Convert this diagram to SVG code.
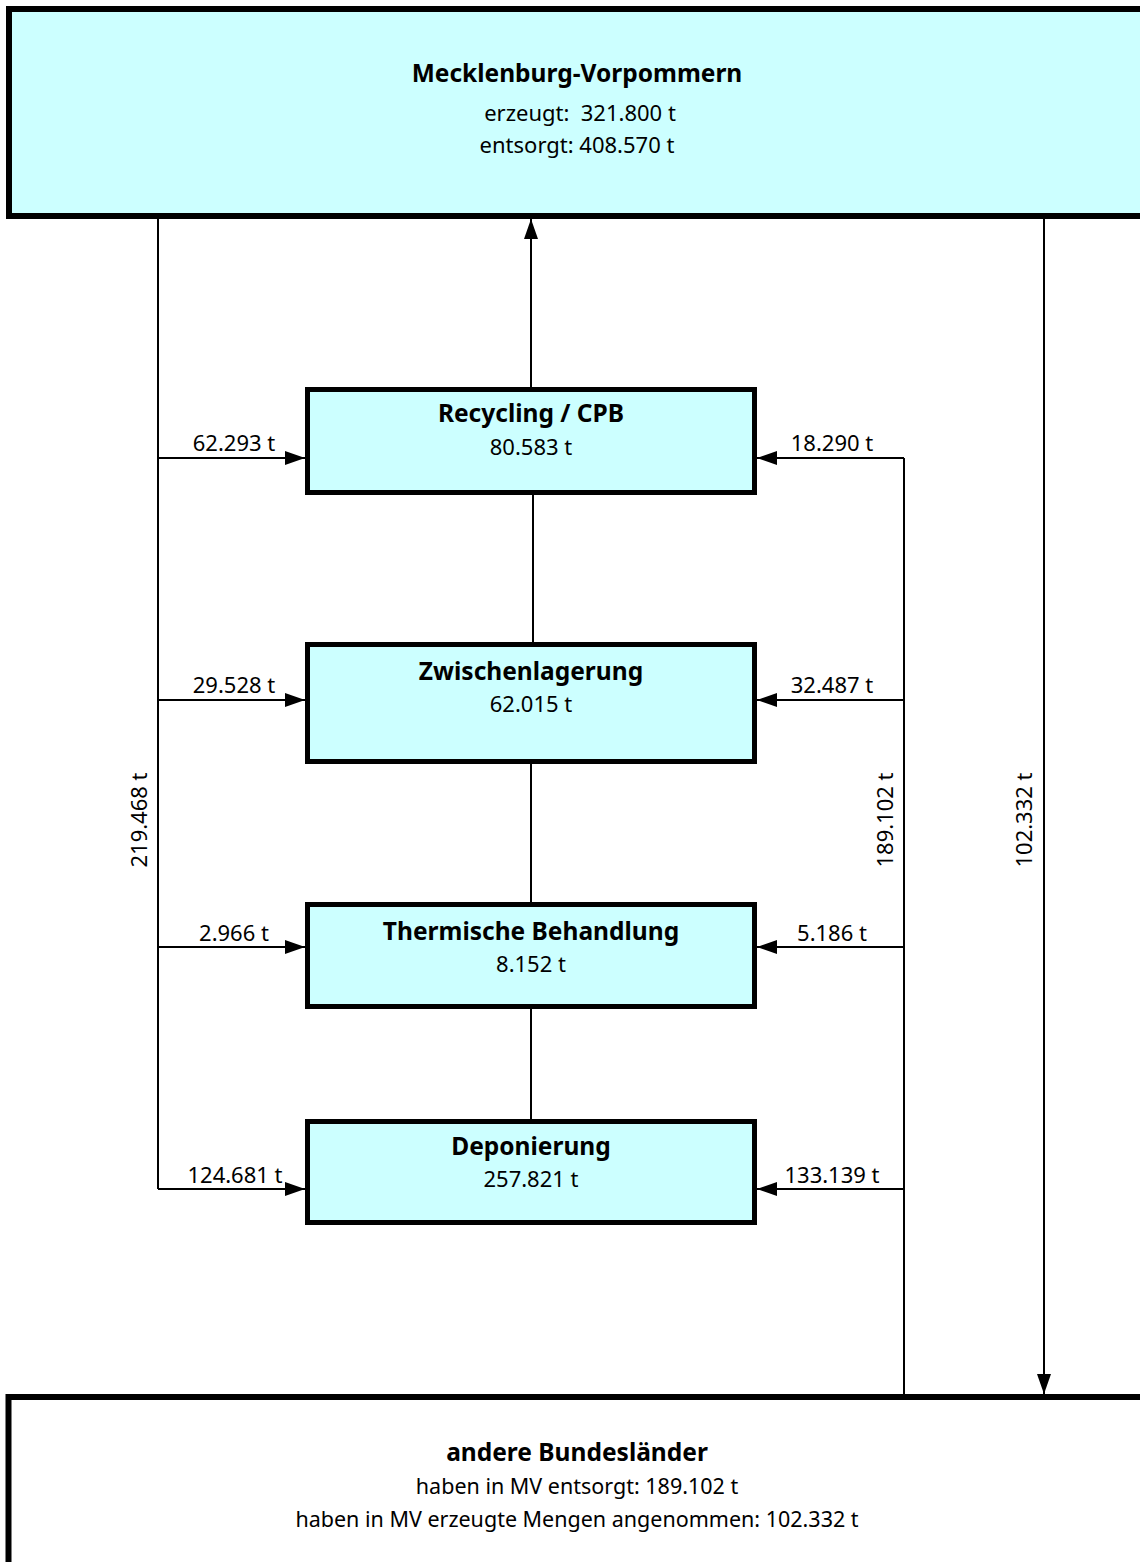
<svg xmlns="http://www.w3.org/2000/svg" width="1140" height="1562" viewBox="0 0 1140 1562">
<style>
text{font-family:"Noto Sans","Open Sans","DejaVu Sans",sans-serif;fill:#000}
.t{font-size:22px;text-anchor:middle}
.s{font-size:21.5px;text-anchor:middle}
.b{font-size:24.5px;font-weight:bold;text-anchor:middle}
.big{fill:#ccffff;stroke:#000;stroke-width:6}
.box{fill:#ccffff;stroke:#000;stroke-width:5}
.ln{stroke:#000;stroke-width:2;fill:none}
</style>
<defs>
<marker id="ah" markerUnits="userSpaceOnUse" markerWidth="22" markerHeight="14" refX="20" refY="7" orient="auto">
<path d="M0,0 L20,7 L0,14 Z" fill="#000"/>
</marker>
</defs>
<g id="connectors">
<line class="ln" x1="158" y1="219" x2="158" y2="1189"/>
<line class="ln" x1="158" y1="458" x2="305" y2="458" marker-end="url(#ah)"/>
<line class="ln" x1="158" y1="700" x2="305" y2="700" marker-end="url(#ah)"/>
<line class="ln" x1="158" y1="947" x2="305" y2="947" marker-end="url(#ah)"/>
<line class="ln" x1="158" y1="1189" x2="305" y2="1189" marker-end="url(#ah)"/>
<line class="ln" x1="904" y1="458" x2="904" y2="1395"/>
<line class="ln" x1="904" y1="458" x2="757" y2="458" marker-end="url(#ah)"/>
<line class="ln" x1="904" y1="700" x2="757" y2="700" marker-end="url(#ah)"/>
<line class="ln" x1="904" y1="947" x2="757" y2="947" marker-end="url(#ah)"/>
<line class="ln" x1="904" y1="1189" x2="757" y2="1189" marker-end="url(#ah)"/>
<line class="ln" x1="1044" y1="219" x2="1044" y2="1394" marker-end="url(#ah)"/>
<line class="ln" x1="531" y1="387" x2="531" y2="219" marker-end="url(#ah)"/>
<line class="ln" x1="533" y1="495" x2="533" y2="642"/>
<line class="ln" x1="531" y1="763" x2="531" y2="902"/>
<line class="ln" x1="531" y1="1008" x2="531" y2="1119"/>
<text class="t" x="234" y="451">62.293 t</text>
<text class="t" x="234" y="693">29.528 t</text>
<text class="t" x="234" y="941">2.966 t</text>
<text class="t" x="235" y="1183">124.681 t</text>
<text class="t" x="832" y="451">18.290 t</text>
<text class="t" x="832" y="693">32.487 t</text>
<text class="t" x="832" y="941">5.186 t</text>
<text class="t" x="832" y="1183">133.139 t</text>
<text class="t" transform="translate(147,820) rotate(-90)">219.468 t</text>
<text class="t" transform="translate(893,820) rotate(-90)">189.102 t</text>
<text class="t" transform="translate(1032,820) rotate(-90)">102.332 t</text>
</g>
<g id="mv">
<rect class="big" x="9" y="9" width="1140" height="207"/>
<text class="b" x="577" y="82">Mecklenburg-Vorpommern</text>
<text class="t" x="580" y="121" xml:space="preserve">erzeugt:  321.800 t</text>
<text class="t" x="577" y="153">entsorgt: 408.570 t</text>
</g>
<g id="recycling">
<rect class="box" x="307.5" y="389.5" width="447" height="103"/>
<text class="b" x="531" y="422">Recycling / CPB</text>
<text class="t" x="531" y="455">80.583 t</text>
</g>
<g id="zwischen">
<rect class="box" x="307.5" y="644.5" width="447" height="117"/>
<text class="b" x="531" y="680">Zwischenlagerung</text>
<text class="t" x="531" y="712">62.015 t</text>
</g>
<g id="thermisch">
<rect class="box" x="307.5" y="904.5" width="447" height="102"/>
<text class="b" x="531" y="940">Thermische Behandlung</text>
<text class="t" x="531" y="972">8.152 t</text>
</g>
<g id="deponierung">
<rect class="box" x="307.5" y="1121.5" width="447" height="101"/>
<text class="b" x="531" y="1155">Deponierung</text>
<text class="t" x="531" y="1187">257.821 t</text>
</g>
<g id="andere">
<rect x="8.5" y="1397" width="1140" height="200" fill="#fff" stroke="#000" stroke-width="6"/>
<text class="b" x="577" y="1461">andere Bundesländer</text>
<text class="s" x="577" y="1494">haben in MV entsorgt: 189.102 t</text>
<text class="s" x="577" y="1527">haben in MV erzeugte Mengen angenommen: 102.332 t</text>
</g>
</svg>
